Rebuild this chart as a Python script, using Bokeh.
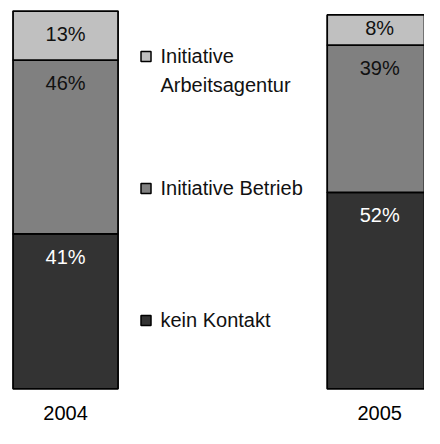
from bokeh.plotting import figure
from bokeh.models import ColumnDataSource, Range1d
from bokeh.core.properties import value
from bokeh.embed import file_html
from bokeh.resources import INLINE

# ---- data ----
years = ["2004", "2005"]
kein_kontakt = [41, 52]
initiative_betrieb = [46, 39]
initiative_agentur = [13, 8]
series_names = ["kein Kontakt", "Initiative Betrieb", "Initiative\nArbeitsagentur"]
colors = ["#333333", "#808080", "#c0c0c0"]
label_colors = ["#ffffff", "#111111", "#111111"]

# ---- layout (screen px in plot coordinates) ----
W, H = 424, 428
S = W / 440.0                  # scale from the 440 px design
PX = 3.92 * S                  # px per percent
BAR_TOP, BAR_BOTTOM = 11 * S, 403 * S
X_SPACING = 326.0 * S          # px between bar centres
FIRST_CENTER = 67.5 * S
BAR_W_PX = 109 * S
FONT = "Liberation Sans"
FS = "20px"

y_end = 100 + BAR_TOP / PX
y_start = -(H - BAR_BOTTOM) / PX
x_start = -FIRST_CENTER / X_SPACING
x_end = x_start + W / X_SPACING

def px_x(px):
    return x_start + px / X_SPACING

def px_y(py):
    return y_end - py / PX

xs = list(range(len(years)))
src = ColumnDataSource(dict(x=xs, kein=kein_kontakt, betrieb=initiative_betrieb, agentur=initiative_agentur))

p = figure(width=W, height=H, x_range=Range1d(x_start, x_end), y_range=Range1d(y_start, y_end),
           output_backend="svg", toolbar_location=None, x_axis_location=None, y_axis_location=None,
           min_border=0)
p.outline_line_color = None
p.xgrid.visible = False
p.ygrid.visible = False
p.background_fill_color = "white"
p.border_fill_color = "white"

p.vbar_stack(["kein", "betrieb", "agentur"], x="x", width=BAR_W_PX / X_SPACING, source=src,
             fill_color=colors, line_color="black", line_width=1.8)

# ---- value labels: 6 % below the segment top, but at least 4.6 % above its bottom ----
lx, ly, lt, lc = [], [], [], []
stacks = [kein_kontakt, initiative_betrieb, initiative_agentur]
for i in range(len(years)):
    base = 0
    for s, vals in enumerate(stacks):
        v = vals[i]
        top = base + v
        lx.append(xs[i])
        ly.append(top - min(6.0, v - 4.6))
        lt.append(f"{v}%")
        lc.append(label_colors[s])
        base = top
p.text(x=lx, y=ly, text=lt, text_color=lc, text_align="center", text_baseline="middle",
       text_font=value(FONT), text_font_size=FS)

# ---- year labels ----
p.text(x=xs, y=[px_y(405.5)] * len(years), text=years, text_align="center",
       text_baseline="top", text_font=value(FONT), text_font_size=FS, text_color="black")

# ---- legend (manual) ----
leg_names = list(reversed(series_names))
leg_colors = list(reversed(colors))
leg_y_px = [58 * S, 195 * S, 332 * S]
p.scatter(x=[px_x(151 * S)] * 3, y=[px_y(v) for v in leg_y_px], marker="square", size=10,
          fill_color=leg_colors, line_color="black", line_width=1.5)
p.text(x=[px_x(166 * S)] * 3, y=[px_y(v - 11) for v in leg_y_px], text=leg_names, text_align="left",
       text_baseline="top", text_font=value(FONT), text_font_size=FS, text_color="#111111",
       text_line_height=1.3)

open("out.html", "w").write(file_html(p, INLINE))
